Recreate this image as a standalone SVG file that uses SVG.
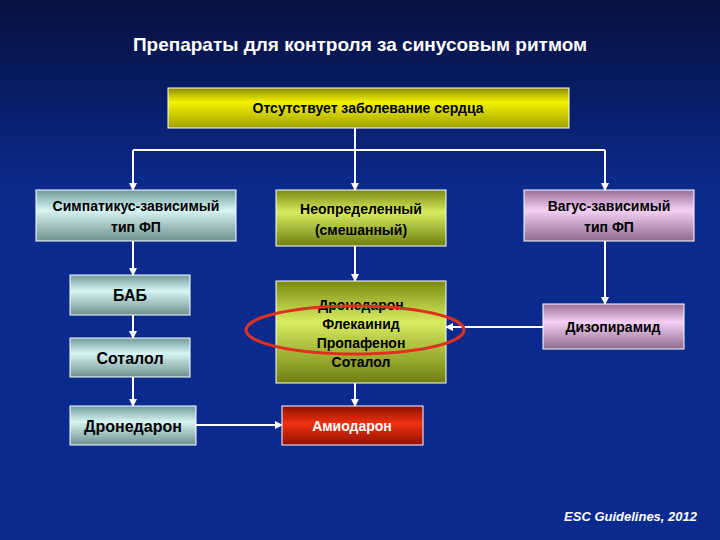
<svg xmlns="http://www.w3.org/2000/svg" width="720" height="540" viewBox="0 0 720 540">
<defs>
<linearGradient id="bg" x1="0" y1="0" x2="0" y2="1"><stop offset="0" stop-color="#07103f"/><stop offset="0.35" stop-color="#0b2a8c"/><stop offset="1" stop-color="#0a2a90"/></linearGradient>
<linearGradient id="yel" x1="0" y1="0" x2="0" y2="1"><stop offset="0" stop-color="#8a8a00"/><stop offset="0.35" stop-color="#f4f400"/><stop offset="1" stop-color="#a0a000"/></linearGradient>
<linearGradient id="cy" x1="0" y1="0" x2="0" y2="1"><stop offset="0" stop-color="#6f9a9a"/><stop offset="0.4" stop-color="#d8f4f4"/><stop offset="1" stop-color="#6f9090"/></linearGradient>
<linearGradient id="gr" x1="0" y1="0" x2="0" y2="1"><stop offset="0" stop-color="#7a8a10"/><stop offset="0.4" stop-color="#d8ec60"/><stop offset="1" stop-color="#6f7f10"/></linearGradient>
<linearGradient id="pk" x1="0" y1="0" x2="0" y2="1"><stop offset="0" stop-color="#9a6f9a"/><stop offset="0.4" stop-color="#f4d0f4"/><stop offset="1" stop-color="#8f6a8f"/></linearGradient>
<linearGradient id="rd" x1="0" y1="0" x2="0" y2="1"><stop offset="0" stop-color="#8a1000"/><stop offset="0.45" stop-color="#f03010"/><stop offset="1" stop-color="#901000"/></linearGradient>
<marker id="ah" markerWidth="8" markerHeight="8" refX="7" refY="4" orient="auto" markerUnits="userSpaceOnUse"><path d="M0,0 L8,4 L0,8 z" fill="#fff"/></marker>
</defs>
<style>
.b{stroke:#fff;stroke-width:1}
.t{font-family:"Liberation Sans",Arial,sans-serif;font-weight:bold;font-size:14px;text-anchor:middle;fill:#000}
.c{stroke:#fff;stroke-width:2;fill:none}
.a{marker-end:url(#ah)}
</style>
<rect width="720" height="540" fill="url(#bg)"/>
<text x="360" y="51" style="font-family:'Liberation Sans',Arial,sans-serif;font-weight:bold;font-size:19px;fill:#fff" text-anchor="middle">Препараты для контроля за синусовым ритмом</text>
<g id="connectors">
<path class="c" d="M355,128 V150 M133,150 H605"/>
<path class="c a" d="M133,150 V190"/>
<path class="c a" d="M355,150 V190"/>
<path class="c a" d="M605,150 V190"/>
<path class="c a" d="M133,241 V275"/>
<path class="c a" d="M133,315 V338"/>
<path class="c a" d="M133,377 V406"/>
<path class="c a" d="M355,246 V281"/>
<path class="c a" d="M355,383 V406"/>
<path class="c a" d="M605,241 V304"/>
<path class="c a" d="M543,327 H446"/>
<path class="c a" d="M196,425 H282"/>
</g>
<g id="n0"><rect class="b" x="168" y="88" width="401" height="40" fill="url(#yel)"/><text class="t" x="368" y="113">Отсутствует заболевание сердца</text></g>
<g id="n1"><rect class="b" x="36" y="190" width="200" height="51" fill="url(#cy)"/><text class="t" x="136" y="211">Симпатикус-зависимый</text><text class="t" x="136" y="232">тип ФП</text></g>
<g id="n2"><rect class="b" x="276" y="190" width="170" height="56" fill="url(#gr)"/><text class="t" x="361" y="214">Неопределенный</text><text class="t" x="361" y="235">(смешанный)</text></g>
<g id="n3"><rect class="b" x="524" y="190" width="170" height="51" fill="url(#pk)"/><text class="t" x="609" y="211">Вагус-зависимый</text><text class="t" x="609" y="232">тип ФП</text></g>
<g id="n4"><rect class="b" x="70" y="275" width="120" height="40" fill="url(#cy)"/><text class="t" x="130" y="301" style="font-size:16px">БАБ</text></g>
<g id="n5"><rect class="b" x="70" y="338" width="120" height="39" fill="url(#cy)"/><text class="t" x="130" y="364" style="font-size:16px">Соталол</text></g>
<g id="n6"><rect class="b" x="70" y="406" width="126" height="39" fill="url(#cy)"/><text class="t" x="133" y="432" style="font-size:16px">Дронедарон</text></g>
<g id="n7"><rect class="b" x="276" y="281" width="170" height="102" fill="url(#gr)"/><text class="t" x="361" y="310">Дронедарон</text><text class="t" x="361" y="329">Флекаинид</text><text class="t" x="361" y="348">Пропафенон</text><text class="t" x="361" y="367">Соталол</text></g>
<g id="n8"><rect class="b" x="282" y="406" width="141" height="39" fill="url(#rd)"/><text class="t" x="352" y="431" style="fill:#fff">Амиодарон</text></g>
<g id="n9"><rect class="b" x="543" y="304" width="141" height="45" fill="url(#pk)"/><text class="t" x="613" y="332">Дизопирамид</text></g>
<ellipse cx="355" cy="330" rx="109" ry="24" fill="none" stroke="#e03020" stroke-width="3"/>
<text x="697" y="521" style="font-family:'Liberation Sans',Arial,sans-serif;font-weight:bold;font-style:italic;font-size:13px;fill:#fff" text-anchor="end">ESC Guidelines, 2012</text>
</svg>
